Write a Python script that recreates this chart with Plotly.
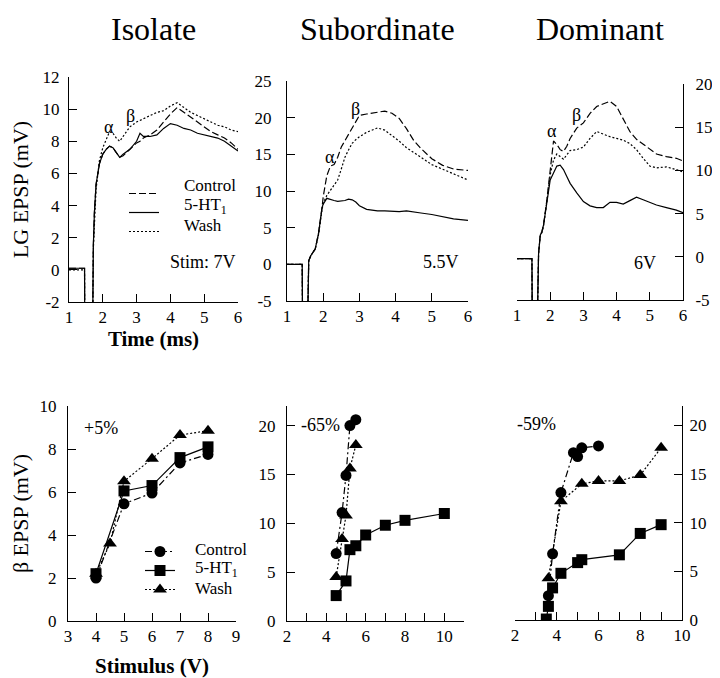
import plotly.graph_objects as go

# ---------------- data: top row, EPSP traces (time in ms, value in mV) ----------------
iso_t = [1.0, 1.46, 1.47, 1.69, 1.72, 1.75, 1.8, 1.9, 2.0, 2.1, 2.2, 2.3, 2.4, 2.5, 2.6, 2.8, 3.0,
         3.1, 3.2, 3.4, 3.6, 3.8, 4.0, 4.2, 4.4, 4.6, 4.8, 5.0, 5.2, 5.4, 5.6, 5.8, 6.0]
iso_control = [0.1, 0.1, -6, -6, 1.5, 3.5, 5.3, 6.6, 7.2, 7.5, 7.7, 7.6, 7.3, 7.0, 7.1, 7.5, 7.9,
               8.0, 8.2, 8.4, 8.7, 9.2, 9.7, 10.1, 9.8, 9.5, 9.2, 8.9, 8.6, 8.4, 8.2, 7.9, 7.5]
iso_5ht = [0.1, 0.1, -6, -6, 1.5, 3.5, 5.3, 6.6, 7.2, 7.5, 7.7, 7.6, 7.3, 7.0, 7.2, 7.5, 8.0,
           8.5, 8.3, 8.3, 8.4, 8.8, 9.1, 9.0, 8.8, 8.7, 8.5, 8.4, 8.3, 8.2, 8.0, 7.7, 7.4]
iso_wash = [0.0, 0.0, -6, -6, 1.3, 3.2, 5.0, 6.8, 7.6, 8.1, 8.6, 8.5, 8.2, 8.0, 8.3, 8.9, 9.2,
            9.3, 9.4, 9.6, 9.8, 9.9, 10.2, 10.4, 10.1, 9.8, 9.6, 9.4, 9.2, 9.0, 8.9, 8.7, 8.6]

sub_t = [1.0, 1.42, 1.43, 1.57, 1.6, 1.66, 1.78, 1.87, 1.97, 2.0, 2.1, 2.2, 2.3, 2.4, 2.5, 2.6,
         2.7, 2.8, 2.9, 3.0, 3.2, 3.5, 3.7, 3.9, 4.1, 4.3, 4.5, 4.7, 5.0, 5.3, 5.6, 6.0]
sub_control = [0, 0, -8, -8, 0.5, 1.2, 2.1, 4.2, 7.8, 9.2, 12.1, 13.4, 13.6, 14.6, 16.0, 16.9,
               17.8, 18.6, 19.4, 20.3, 20.5, 20.8, 20.9, 20.6, 19.9, 18.5, 16.9, 15.8, 14.4, 13.5, 13.0, 12.8]
sub_5ht = [0, 0, -8, -8, 0.5, 1.2, 2.1, 4.2, 7.8, 8.2, 9.0, 8.8, 8.7, 8.6, 8.6, 8.7,
           8.9, 8.8, 8.5, 8.0, 7.5, 7.3, 7.3, 7.2, 7.2, 7.3, 7.2, 7.0, 6.8, 6.5, 6.2, 6.0]
sub_wash = [0, 0, -8, -8, 0.5, 1.2, 2.1, 4.0, 7.5, 8.3, 9.4, 10.1, 10.8, 11.5, 13.0, 14.6,
            15.6, 16.5, 17.0, 17.4, 18.0, 18.6, 18.3, 17.6, 16.8, 15.9, 15.2, 14.6, 13.6, 13.0, 12.4, 11.5]

dom_t = [1.0, 1.45, 1.46, 1.61, 1.65, 1.7, 1.75, 1.8, 1.9, 2.0, 2.1, 2.2, 2.3, 2.4, 2.5, 2.6,
         2.8, 3.0, 3.2, 3.4, 3.6, 3.8, 4.0, 4.2, 4.4, 4.6, 4.8, 5.0, 5.2, 5.5, 5.8, 6.0]
dom_control = [-0.2, -0.2, -8, -8, 0.4, 2.5, 2.9, 3.7, 6.6, 10.1, 13.4, 13.0, 12.4, 12.2, 12.8, 13.7,
               14.9, 15.5, 16.6, 17.4, 17.7, 18.0, 17.4, 15.9, 14.5, 13.6, 13.0, 12.4, 11.9, 11.6, 11.4, 11.1]
dom_5ht = [-0.2, -0.2, -8, -8, 0.4, 2.5, 2.9, 3.7, 6.3, 8.9, 9.7, 10.5, 10.6, 10.1, 9.3, 8.5,
           7.4, 6.4, 5.9, 5.7, 5.7, 6.3, 6.3, 6.1, 6.5, 6.9, 6.6, 6.3, 6.0, 5.7, 5.4, 5.1]
dom_wash = [-0.2, -0.2, -8, -8, 0.4, 2.4, 2.8, 3.6, 6.4, 9.5, 11.2, 11.9, 11.6, 11.3, 11.8, 12.3,
            12.4, 12.7, 13.7, 14.5, 14.2, 13.9, 13.7, 13.5, 13.1, 12.4, 11.4, 10.5, 10.3, 10.4, 10.1, 9.8]

# ---------------- data: bottom row, beta EPSP vs stimulus ----------------
iso_ctrl_v = [4, 5, 6, 7, 8]
iso_ctrl_b = [2.0, 5.45, 5.95, 7.35, 7.75]
iso_ht_v = [4, 5, 6, 7, 8]
iso_ht_b = [2.2, 6.05, 6.3, 7.6, 8.1]
iso_wash_v = [4, 4.5, 5, 6, 7, 8]
iso_wash_b = [2.2, 3.6, 6.5, 7.55, 8.65, 8.85]

sub_ctrl_v = [4.5, 4.8, 5.0, 5.2, 5.5]
sub_ctrl_b = [6.9, 11.1, 14.9, 20.0, 20.6]
sub_ht_v = [4.5, 5.0, 5.2, 5.5, 6, 7, 8, 10]
sub_ht_b = [2.6, 4.1, 7.3, 7.7, 8.8, 9.8, 10.3, 11.0]
sub_wash_v = [4.5, 4.8, 5.0, 5.2, 5.5]
sub_wash_b = [4.5, 8.4, 10.8, 15.6, 18.0]

dom_ctrl_v = [3.6, 3.8, 4.2, 4.8, 5.0, 5.2, 6.0]
dom_ctrl_b = [2.5, 6.8, 13.1, 17.2, 16.8, 17.7, 17.9]
dom_ht_v = [3.5, 3.6, 3.8, 4.2, 5.0, 5.2, 7, 8, 9]
dom_ht_b = [0.1, 1.4, 3.3, 4.8, 5.9, 6.2, 6.7, 8.9, 9.8]
dom_wash_v = [3.6, 4.2, 5.2, 6, 7, 8, 9]
dom_wash_b = [4.3, 12.2, 14.0, 14.3, 14.3, 14.9, 17.7]

# ---------------- tick labels ----------------
iso_y_ticks = [-2, 0, 2, 4, 6, 8, 10, 12]
sub_y_ticks = [-5, 0, 5, 10, 15, 20, 25]
dom_y_ticks = [-5, 0, 5, 10, 15, 20]
time_ticks = [1, 2, 3, 4, 5, 6]
iso_stim_ticks = [3, 4, 5, 6, 7, 8, 9]
beta_iso_ticks = [0, 2, 4, 6, 8, 10]
beta_ticks = [0, 5, 10, 15, 20]
stim_ticks = [2, 4, 6, 8, 10]
series_names = ["Control", "5-HT<sub>1</sub>", "Wash"]


def lab(v):
    return [str(x) for x in v]


FONT = "Liberation Serif, Times New Roman, Times, serif"
# the page puts the figure 8px in from the top-left corner; size the figure to fill the window
OFF = 8
W, H = 720 - OFF, 678 - OFF


def px_x(p):
    return (p - OFF) / W


def px_y(p):
    return 1 - (p - OFF) / H


def dx(a, b):
    return [px_x(a), px_x(b)]


def dy(top, bottom):
    return [px_y(bottom), px_y(top)]


fig = go.Figure()

# top traces
top_sets = [
    ("x", "y", iso_t, [iso_control, iso_5ht, iso_wash]),
    ("x2", "y2", sub_t, [sub_control, sub_5ht, sub_wash]),
    ("x3", "y3", dom_t, [dom_control, dom_5ht, dom_wash]),
]
top_dash = ["7px,3px", "solid", "2px,2px"]
for i, (xa, ya, t, vals) in enumerate(top_sets):
    for j, v in enumerate(vals):
        fig.add_trace(go.Scatter(
            x=t, y=v, xaxis=xa, yaxis=ya, mode="lines",
            line=dict(color="black", width=1.2, dash=top_dash[j]),
            name="", showlegend=(i == 0), legend="legend", hoverinfo="skip",
        ))

# bottom traces
bot_sets = [
    ("x4", "y4", [(iso_ctrl_v, iso_ctrl_b), (iso_ht_v, iso_ht_b), (iso_wash_v, iso_wash_b)]),
    ("x5", "y5", [(sub_ctrl_v, sub_ctrl_b), (sub_ht_v, sub_ht_b), (sub_wash_v, sub_wash_b)]),
    ("x6", "y6", [(dom_ctrl_v, dom_ctrl_b), (dom_ht_v, dom_ht_b), (dom_wash_v, dom_wash_b)]),
]
bot_dash = ["7px,3px,2px,3px", "solid", "2px,2px"]
bot_sym = ["circle", "square", "triangle-up"]
bot_size = [11, 11, 12]
for i, (xa, ya, sets) in enumerate(bot_sets):
    for j, (xv, yv) in enumerate(sets):
        fig.add_trace(go.Scatter(
            x=xv, y=yv, xaxis=xa, yaxis=ya, mode="lines+markers",
            line=dict(color="black", width=1.2, dash=bot_dash[j]),
            marker=dict(symbol=bot_sym[j], size=bot_size[j], color="black"),
            name="", showlegend=(i == 0), legend="legend2", hoverinfo="skip",
        ))

tickfont = dict(family=FONT, size=17, color="black")
common = dict(showline=True, linecolor="black", linewidth=1, ticks="inside", ticklen=8,
              tickcolor="black", tickwidth=1, showgrid=False, zeroline=False,
              tickfont=tickfont, mirror=False, automargin=False)

fig.update_layout(
    template="none",
    width=W, height=H, margin=dict(l=0, r=0, t=0, b=0, pad=0),
    paper_bgcolor="white", plot_bgcolor="white",
    font=dict(family=FONT, color="black"),
    xaxis=dict(domain=dx(69, 238), range=[1, 6], anchor="y", tickvals=time_ticks,
               ticktext=lab(time_ticks),
               title=dict(text="<b>Time (ms)</b>", font=dict(family=FONT, size=21), standoff=4),
               **common),
    yaxis=dict(domain=dy(77, 302), range=[-2, 12], anchor="x", tickvals=iso_y_ticks,
               ticktext=lab(iso_y_ticks), ticklabelstandoff=5,
               title=dict(text="LG EPSP (mV)", font=dict(family=FONT, size=22), standoff=24),
               **common),
    xaxis2=dict(domain=dx(287, 468), range=[1, 6], anchor="y2", tickvals=time_ticks,
                ticktext=lab(time_ticks), **common),
    yaxis2=dict(domain=dy(81, 301), range=[-5, 25], anchor="x2", tickvals=sub_y_ticks,
                ticktext=lab(sub_y_ticks), ticklabelstandoff=11, **common),
    xaxis3=dict(domain=dx(517, 683), range=[1, 6], anchor="y3", tickvals=time_ticks,
                ticktext=lab(time_ticks), **common),
    yaxis3=dict(domain=dy(84, 300), range=[-5, 20], anchor="x3", side="right",
                tickvals=dom_y_ticks, ticktext=lab(dom_y_ticks), ticklabelstandoff=8, **common),
    xaxis4=dict(domain=dx(68, 236), range=[3, 9], anchor="y4", tickvals=iso_stim_ticks,
                ticktext=lab(iso_stim_ticks),
                title=dict(text="<b>Stimulus (V)</b>", font=dict(family=FONT, size=21), standoff=12),
                **common),
    yaxis4=dict(domain=dy(406, 621), range=[0, 10], anchor="x4", tickvals=beta_iso_ticks,
                ticktext=lab(beta_iso_ticks), ticklabelstandoff=7,
                title=dict(text="β EPSP (mV)", font=dict(family=FONT, size=22), standoff=20),
                **common),
    xaxis5=dict(domain=dx(287, 464), range=[2, 11], anchor="y5", tickvals=stim_ticks,
                ticktext=lab(stim_ticks),
                minor=dict(dtick=1, ticks="inside", ticklen=8, tickcolor="black"), **common),
    yaxis5=dict(domain=dy(406, 621), range=[0, 22], anchor="x5", tickvals=beta_ticks,
                ticktext=lab(beta_ticks), ticklabelstandoff=7, **common),
    xaxis6=dict(domain=dx(515, 682), range=[2, 10], anchor="y6", tickvals=stim_ticks,
                ticktext=lab(stim_ticks),
                minor=dict(dtick=1, ticks="inside", ticklen=8, tickcolor="black"), **common),
    yaxis6=dict(domain=dy(406, 620), range=[0, 22], anchor="x6", side="right",
                tickvals=beta_ticks, ticktext=lab(beta_ticks), ticklabelstandoff=3, **common),
    legend=dict(x=px_x(124), y=px_y(179), xanchor="left", yanchor="top",
                bgcolor="rgba(0,0,0,0)", font=dict(family=FONT, size=11),
                tracegroupgap=0, borderwidth=0),
    legend2=dict(x=px_x(140), y=px_y(537), xanchor="left", yanchor="top",
                 bgcolor="rgba(0,0,0,0)", font=dict(family=FONT, size=11),
                 tracegroupgap=0, borderwidth=0),
)

annotations = []
for txt, cx in [("Isolate", 153.5), ("Subordinate", 377.5), ("Dominant", 600)]:
    annotations.append(dict(text=txt, x=px_x(cx), y=px_y(9), xref="paper", yref="paper",
                            showarrow=False, font=dict(family=FONT, size=32, color="black"),
                            xanchor="center", yanchor="top"))

# legend labels
leg_font = dict(family=FONT, size=17, color="black")
for k, ypx in enumerate([186, 206, 226]):
    annotations.append(dict(text=series_names[k], x=px_x(182), y=px_y(ypx), xref="paper",
                            yref="paper", showarrow=False, font=leg_font,
                            xanchor="left", yanchor="middle"))
for k, ypx in enumerate([549, 568.5, 588]):
    annotations.append(dict(text=series_names[k], x=px_x(193), y=px_y(ypx), xref="paper",
                            yref="paper", showarrow=False, font=leg_font,
                            xanchor="left", yanchor="middle"))

ann_font = dict(family=FONT, size=18, color="black")
labels = [
    ("α", 2.17, 8.9, "x", "y", "center"),
    ("β", 2.81, 9.6, "x", "y", "center"),
    ("Stim: 7V", 6.0, 0.5, "x", "y", "right"),
    ("α", 2.18, 14.7, "x2", "y2", "center"),
    ("β", 2.89, 21.2, "x2", "y2", "center"),
    ("5.5V", 5.8, 0.3, "x2", "y2", "right"),
    ("α", 2.06, 14.6, "x3", "y3", "center"),
    ("β", 2.79, 16.4, "x3", "y3", "center"),
    ("6V", 5.25, -0.75, "x3", "y3", "right"),
    ("+5%", 3.5, 9.0, "x4", "y4", "left"),
    ("-65%", 2.6, 20.1, "x5", "y5", "left"),
    ("-59%", 2.0, 20.1, "x6", "y6", "left"),
]
for txt, x, y, xr, yr, anc in labels:
    annotations.append(dict(text=txt, x=x, y=y, xref=xr, yref=yr, showarrow=False,
                            font=ann_font, xanchor=anc, yanchor="middle"))

fig.update_layout(annotations=annotations)

fig.write_html("out.html")
